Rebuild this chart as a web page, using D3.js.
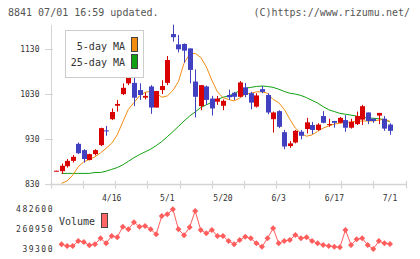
<!DOCTYPE html>
<html><head><meta charset="utf-8">
<script src="https://cdn.jsdelivr.net/npm/d3@7"></script>
<style>body{margin:0;background:#fff}svg{display:block}text{font-family:"DejaVu Sans Mono",monospace}</style>
</head><body><div id="c"></div>
<script>
const tickLabels = ["4/16","5/1","5/20","6/3","6/17","7/1"];
const tickIndex = [10,20,30,40,50,60];
const priceTicks = [830,930,1030,1130];
const volumeTicks = [39300,260950,482600];
const volumeTickLabels = ["39300","260950","482600"];
const open = [858,858,869,881,919,905,883,896,916,949,974,1004,1030,1054,1055,1039,1022,1047,1000,1039,1055,1164,1141,1142,1132,1058,1003,1047,1020,1013,1004,1028,1033,1024,1045,1032,1002,1041,1028,974,992,945,914,922,946,952,961,950,981,961,970,966,972,955,963,973,989,975,982,975,962];
const close = [859,870,881,890,898,885,896,905,954,947,990,1008,1044,1067,1022,1028,1026,1000,1037,1048,1106,1157,1130,1127,1084,1024,1050,1017,998,1020,1015,1023,1024,1056,1028,1011,1027,1035,989,989,957,913,920,948,937,967,950,962,966,963,966,977,955,968,981,1003,970,970,988,953,948];
const high = [859,875,885,894,922,907,897,907,955,959,998,1017,1054,1076,1076,1054,1033,1050,1037,1061,1115,1185,1162,1143,1132,1085,1050,1049,1026,1026,1018,1040,1035,1059,1055,1035,1032,1048,1032,991,994,950,925,950,950,977,968,965,992,975,970,979,983,975,991,1006,989,975,988,981,965];
const low = [858,852,866,877,896,877,882,893,914,937,972,991,1028,1050,1003,1017,1018,986,1000,1030,1050,1147,1123,1100,1054,978,994,1006,982,1006,994,1017,1017,1023,1023,996,1000,1032,985,944,954,907,910,920,929,942,941,948,965,957,955,965,946,953,961,961,963,966,963,948,939];
const volume = [null,91800,72800,72800,128600,117500,80600,91800,158800,103000,184500,169900,288300,259300,337400,288300,296100,259300,203400,407800,426800,482600,259300,192300,281600,463600,251500,214600,251500,184500,184500,128600,91800,139800,176600,158800,103000,65000,158800,270400,103000,128600,139800,195600,158800,169900,128600,103000,84000,72800,65000,58300,251500,84000,147600,158800,84000,39300,128600,103000,95100];
const ma5 = [null,831,836,849,868,879,884,890,899,909,920,939,968,996,1011,1026,1034,1036,1032,1023,1026,1038,1058,1099,1119,1121,1112,1091,1061,1035,1022,1018,1015,1021,1030,1032,1035,1035,1032,1018,1011,996,974,954,942,936,939,947,954,959,963,965,966,968,969,970,970,970,972,974,969];
const ma25 = [null,853,853,853,853,853,853,855,855,858,862,866,872,880,888,895,901,907,915,924,935,946,958,970,981,990,1000,1006,1012,1018,1023,1026,1031,1038,1043,1045,1047,1048,1047,1045,1041,1036,1032,1030,1027,1022,1016,1010,1002,995,991,987,985,983,981,978,977,976,975,973,968];

const W=420,H=259;
const svg=d3.select("#c").append("svg").attr("width",W).attr("height",H);
svg.append("rect").attr("width",W).attr("height",H).attr("fill","#fff");

const n=open.length;
const x=d3.scaleLinear().domain([0,n-1]).range([56,390]);
const y=d3.scaleLinear().domain([830,1130]).range([183.7,49.3]);
const yv=d3.scaleLinear().domain([39300,482600]).range([249,209.3]);
const gridX=d3.scaleLinear().domain([0,11]).range([50.5,405.5]);
const axisCol="#d4d4d4";

// title
svg.append("text").attr("x",8).attr("y",16).attr("font-size",10).attr("fill","#555").text("8841 07/01 16:59 updated.");
svg.append("text").attr("x",410).attr("y",16).attr("font-size",10).attr("fill","#555").attr("text-anchor","end").text("(C)https://www.rizumu.net/");

// axes
svg.append("line").attr("x1",51.5).attr("x2",51.5).attr("y1",25).attr("y2",184).attr("stroke",axisCol);
svg.append("line").attr("x1",50).attr("x2",406).attr("y1",184.5).attr("y2",184.5).attr("stroke",axisCol).attr("stroke-width",1.5);
svg.selectAll(".gx").data(d3.range(12)).join("line")
  .attr("x1",d=>Math.round(gridX(d))+0.5).attr("x2",d=>Math.round(gridX(d))+0.5)
  .attr("y1",181).attr("y2",188.5).attr("stroke",axisCol).attr("stroke-width",1.2);
svg.selectAll(".yt").data(priceTicks).join("line")
  .attr("x1",45).attr("x2",53).attr("y1",d=>Math.round(y(d))+0.5).attr("y2",d=>Math.round(y(d))+0.5).attr("stroke",axisCol);
svg.selectAll(".yl").data(priceTicks).join("text")
  .attr("x",39.5).attr("y",d=>y(d)+3).attr("text-anchor","end").attr("font-size",8).attr("fill","#333").text(d=>d);
svg.selectAll(".xl").data(tickLabels).join("text")
  .attr("x",(d,i)=>x(tickIndex[i])).attr("y",201).attr("text-anchor","middle").attr("font-size",8).attr("fill","#333").text(d=>d);

// MA lines
const line=arr=>d3.line().defined(d=>d!=null).x((d,i)=>x(i)).y(d=>y(d))(arr);
svg.append("path").attr("d",line(ma25)).attr("fill","none").attr("stroke","#11a011").attr("stroke-width",1);
svg.append("path").attr("d",line(ma5)).attr("fill","none").attr("stroke","#f28c10").attr("stroke-width",1);

// candles
const idx=d3.range(n);
const col=i=>close[i]>=open[i]?"#d80000":"#4040c0";
svg.selectAll(".wick").data(idx).join("line")
  .attr("x1",i=>Math.round(x(i))+0.5).attr("x2",i=>Math.round(x(i))+0.5)
  .attr("y1",i=>y(high[i])).attr("y2",i=>y(low[i])).attr("stroke",col).attr("stroke-width",1);
svg.selectAll(".body").data(idx).join("rect")
  .attr("x",i=>Math.round(x(i))-2).attr("width",5)
  .attr("y",i=>y(Math.max(open[i],close[i])))
  .attr("height",i=>Math.max(1,Math.abs(y(open[i])-y(close[i]))))
  .attr("fill",col);

// legend
svg.append("rect").attr("x",65.5).attr("y",30.5).attr("width",78).attr("height",47).attr("fill","#fff").attr("stroke","#ccc");
svg.append("text").attr("x",125).attr("y",49.5).attr("text-anchor","end").attr("font-size",10).attr("fill","#333").text("5-day MA");
svg.append("text").attr("x",125).attr("y",66).attr("text-anchor","end").attr("font-size",10).attr("fill","#333").text("25-day MA");
svg.append("rect").attr("x",131.5).attr("y",37.5).attr("width",6).attr("height",14).attr("fill","#f28c10").attr("stroke","#444");
svg.append("rect").attr("x",131.5).attr("y",54.5).attr("width",6).attr("height",14).attr("fill","#11a011").attr("stroke","#444");

// volume
const vcol="#ff5c5c";
svg.selectAll(".vl").data(volumeTicks).join("text")
  .attr("x",54).attr("y",d=>yv(d)+3).attr("text-anchor","end").attr("font-size",8).attr("letter-spacing",1.5).attr("fill","#333").text((d,i)=>volumeTickLabels[i]);
svg.append("text").attr("x",59).attr("y",225).attr("font-size",10).attr("fill","#333").text("Volume");
svg.append("rect").attr("x",101.5).attr("y",213.5).attr("width",6).attr("height",14).attr("fill","#ff6666").attr("stroke","#444");
const vline=d3.line().defined(d=>d!=null).x((d,i)=>x(i)).y(d=>yv(d));
svg.append("path").attr("d",vline(volume)).attr("fill","none").attr("stroke",vcol).attr("stroke-width",1);
svg.selectAll(".vd").data(idx.filter(i=>volume[i]!=null)).join("path")
  .attr("d","M0,-3L3,0L0,3L-3,0Z").attr("transform",i=>`translate(${x(i)},${yv(volume[i])})`).attr("fill",vcol);
</script></body></html>
